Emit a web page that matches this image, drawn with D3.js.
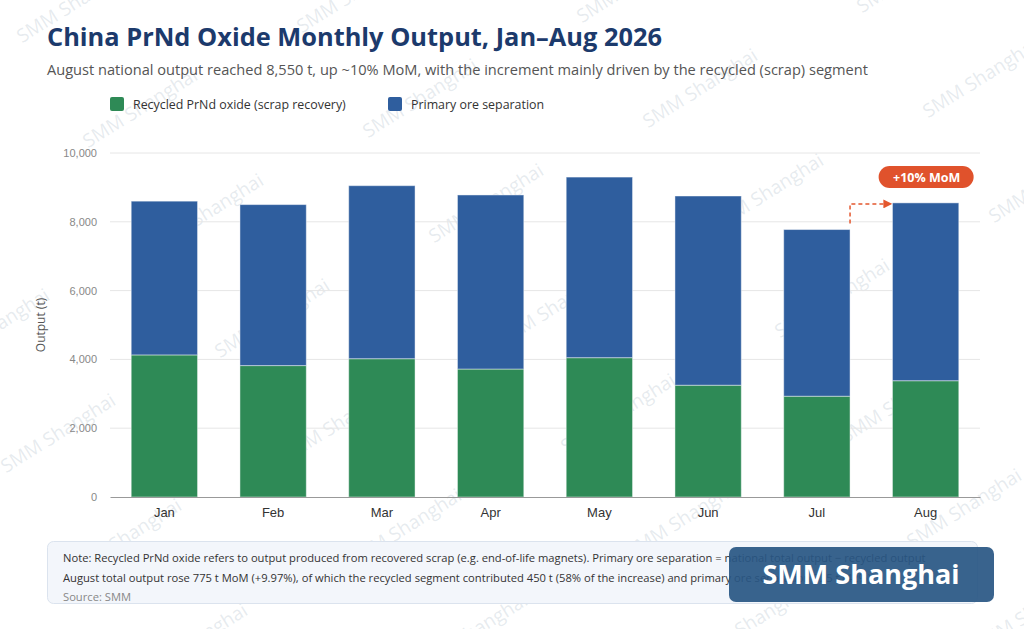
<!DOCTYPE html>
<html>
<head>
<meta charset="utf-8">
<script src="https://cdn.jsdelivr.net/npm/d3@7"></script>
<style>
  body { margin: 0; background: #fff; }
  svg { display: block; font-family: "Segoe UI", "Open Sans", "Noto Sans", sans-serif; }
</style>
</head>
<body>
<svg id="chart" width="1024" height="629"></svg>
<script>
var months = ["Jan", "Feb", "Mar", "Apr", "May", "Jun", "Jul", "Aug"];
var recycled = [4130, 3820, 4020, 3720, 4050, 3250, 2930, 3380];
var primary = [4470, 4680, 5030, 5060, 5250, 5500, 4845, 5170];
var yTicks = [0, 2000, 4000, 6000, 8000, 10000];
var seriesNames = ["Recycled PrNd oxide (scrap recovery)", "Primary ore separation"];
var seriesColors = ["#2e8a56", "#2f5e9e"];

var svg = d3.select("#chart");

// watermark layer
var wm = svg.append("g");
for (var i = -1; i < 4; i++) {
  for (var j = -2; j < 5; j++) {
    var cx = 206 + 280 * i + 66 * j;
    var cy = 213 - 10 * i + 105 * j;
    if (cx < -100 || cx > 1120 || cy < -60 || cy > 690) continue;
    wm.append("text")
      .attr("transform", "translate(" + cx + "," + cy + ") rotate(-32)")
      .attr("text-anchor", "middle")
      .attr("dy", "0.35em")
      .style("font-size", "19px")
      .style("fill", "#b4bfcc")
      .style("fill-opacity", 0.33)
      .text("SMM Shanghai");
  }
}

svg.append("text")
  .attr("x", 47).attr("y", 46)
  .style("font-size", "25.4px").style("font-weight", "bold").style("fill", "#1c3a6c")
  .text("China PrNd Oxide Monthly Output, Jan\u2013Aug 2026");

svg.append("text")
  .attr("x", 47).attr("y", 75)
  .style("font-size", "14.6px").style("fill", "#555")
  .text("August national output reached 8,550 t, up ~10% MoM, with the increment mainly driven by the recycled (scrap) segment");

// legend
var legendX = [110, 388];
var legend = svg.selectAll(".legend").data(seriesNames).enter().append("g")
  .attr("transform", function (d, k) { return "translate(" + legendX[k] + ",97)"; });
legend.append("rect").attr("width", 14).attr("height", 14).attr("rx", 2)
  .attr("fill", function (d, k) { return seriesColors[k]; });
legend.append("text").attr("x", 23).attr("y", 11.5)
  .style("font-size", "12.4px").style("fill", "#333")
  .text(function (d) { return d; });

var x = d3.scaleBand().domain(months).range([110, 980]).paddingInner(0.39).paddingOuter(0.195);
var y = d3.scaleLinear().domain([0, 10000]).range([497, 153]);

// grid
svg.append("g").selectAll("line").data(yTicks.slice(1)).enter().append("line")
  .attr("x1", 110).attr("x2", 980)
  .attr("y1", function (d) { return y(d); }).attr("y2", function (d) { return y(d); })
  .attr("stroke", "#e6e6e6");

var yAxis = svg.append("g").attr("transform", "translate(110,0)")
  .call(d3.axisLeft(y).tickValues(yTicks).tickSize(0).tickPadding(13).tickFormat(d3.format(",")));
yAxis.select(".domain").remove();
yAxis.selectAll("text").style("font-size", "11px").style("fill", "#888").style("font-family", null);

svg.append("text")
  .attr("transform", "translate(45,325) rotate(-90)")
  .attr("text-anchor", "middle")
  .style("font-size", "12px").style("fill", "#555")
  .text("Output (t)");

// stacked bars
var rows = months.map(function (m, k) { return { month: m, recycled: recycled[k], primary: primary[k] }; });
var stack = d3.stack().keys(["recycled", "primary"])(rows);
svg.append("g").selectAll("g").data(stack).enter().append("g")
  .attr("fill", function (d, k) { return seriesColors[k]; })
  .selectAll("rect").data(function (d) { return d; }).enter().append("rect")
  .attr("x", function (d) { return x(d.data.month); })
  .attr("width", x.bandwidth())
  .attr("y", function (d) { return y(d[1]); })
  .attr("height", function (d) { return y(d[0]) - y(d[1]); })
  .attr("stroke", "#ffffff").attr("stroke-opacity", 0.45).attr("stroke-width", 1);

var xAxis = svg.append("g").attr("transform", "translate(0,497)")
  .call(d3.axisBottom(x).tickSize(0).tickPadding(11));
xAxis.select(".domain").attr("stroke", "#999").attr("stroke-width", 1.2);
xAxis.selectAll("text").style("font-size", "13px").style("fill", "#333").style("font-family", null);

// MoM annotation
var julTop = y(recycled[6] + primary[6]);
var augTop = y(recycled[7] + primary[7]);
var jx = x("Jul") + x.bandwidth();
var ax = x("Aug");
svg.append("defs").append("marker")
  .attr("id", "arr").attr("viewBox", "0 0 10 10").attr("refX", 9).attr("refY", 5)
  .attr("markerWidth", 6).attr("markerHeight", 6).attr("orient", "auto")
  .append("path").attr("d", "M0,0L10,5L0,10z").attr("fill", "#e4572e");
svg.append("path")
  .attr("d", "M" + jx + "," + (julTop - 6) + "V" + (augTop + 1) + "H" + (ax - 1))
  .attr("fill", "none").attr("stroke", "#e4572e").attr("stroke-width", 1.5)
  .attr("stroke-dasharray", "4,3").attr("marker-end", "url(#arr)");
var bcx = x("Aug") + x.bandwidth() / 2;
svg.append("rect").attr("x", bcx - 47).attr("y", 166).attr("width", 95).attr("height", 22).attr("rx", 11)
  .attr("fill", "#e0522c");
svg.append("text").attr("x", bcx + 1).attr("y", 181.5).attr("text-anchor", "middle")
  .style("font-size", "12.5px").style("font-weight", "bold").style("fill", "#fff")
  .text("+10% MoM");

// note box
svg.append("rect").attr("x", 47.5).attr("y", 541.5).attr("width", 930).attr("height", 62).attr("rx", 6)
  .attr("fill", "#f3f6fb").attr("stroke", "#dbe3ee");
var notes = [
  "Note: Recycled PrNd oxide refers to output produced from recovered scrap (e.g. end-of-life magnets). Primary ore separation = national total output \u2212 recycled output",
  "August total output rose 775 t MoM (+9.97%), of which the recycled segment contributed 450 t (58% of the increase) and primary ore separation 325 t (42%)."
];
svg.selectAll(".note").data(notes).enter().append("text")
  .attr("x", 63).attr("y", function (d, k) { return 562 + k * 19.5; })
  .style("font-size", "11.2px").style("fill", "#333")
  .text(function (d) { return d; });
svg.append("text").attr("x", 63).attr("y", 601)
  .style("font-size", "11.2px").style("fill", "#888").text("Source: SMM");

// brand box
svg.append("rect").attr("x", 729).attr("y", 547).attr("width", 265).attr("height", 55).attr("rx", 7)
  .attr("fill", "#285683").attr("fill-opacity", 0.92);
svg.append("text").attr("x", 861).attr("y", 584).attr("text-anchor", "middle")
  .style("font-size", "27px").style("font-weight", "bold").style("fill", "#fff")
  .text("SMM Shanghai");
</script>
</body>
</html>
